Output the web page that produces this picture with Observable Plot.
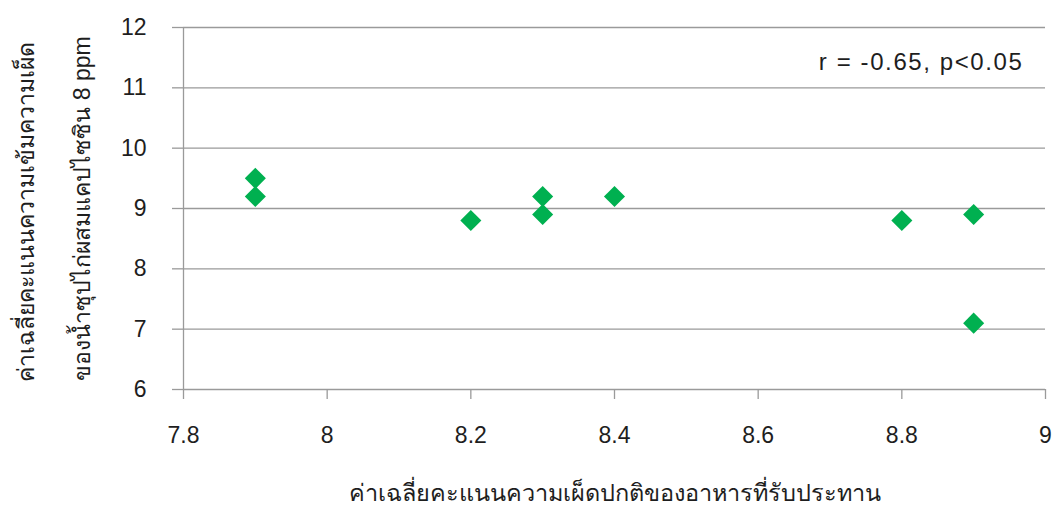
<!DOCTYPE html>
<html>
<head>
<meta charset="utf-8">
<script src="https://cdn.jsdelivr.net/npm/d3@7"></script>
<script src="https://cdn.jsdelivr.net/npm/@observablehq/plot@0.6"></script>
<style>
  html, body { margin: 0; padding: 0; background: #fff; }
  #chart svg { display: block; }
</style>
</head>
<body>
<div id="chart"></div>
<script>
// Average normal spiciness score of everyday food (x) vs. average spiciness intensity score
// of chicken soup with 8 ppm capsaicin (y)
const normalSpiceScore = [7.9, 7.9, 8.2, 8.3, 8.3, 8.4, 8.8, 8.9, 8.9];
const soupIntensityScore = [9.5, 9.2, 8.8, 9.2, 8.9, 9.2, 8.8, 8.9, 7.1];
const xTicks = [7.8, 8, 8.2, 8.4, 8.6, 8.8, 9];
const yTicks = [6, 7, 8, 9, 10, 11, 12];
const xTitle = "ค่าเฉลี่ยคะแนนความเผ็ดปกติของอาหารที่รับประทาน";
const yTitleLines = ["ค่าเฉลี่ยคะแนนความเข้มความเผ็ด", "ของน้ำซุปไก่ผสมแคปไซซิน 8 ppm"];
const statLabel = "r = -0.65, p<0.05";

const points = normalSpiceScore.map((x, i) => ({x, y: soupIntensityScore[i]}));

const font = "'Liberation Sans', Arial, sans-serif";
const gray = "#9a9a9a";
const ink = "#1e1e1e";

const chart = Plot.plot({
  width: 1052,
  height: 506,
  marginLeft: 183,
  marginRight: 7,
  marginTop: 27,
  marginBottom: 117,
  style: {fontFamily: font, fontSize: "23px", color: ink, background: "#fff"},
  x: {domain: [7.8, 9], ticks: xTicks, tickFormat: d => String(d)},
  y: {domain: [6, 12], ticks: yTicks, tickFormat: d => String(d)},
  marks: [
    Plot.gridY(yTicks, {stroke: gray, strokeOpacity: 1, strokeWidth: 1.3}),
    Plot.ruleX([7.8], {y1: 6, y2: 12, stroke: gray, strokeWidth: 1.3}),
    Plot.axisY({ticks: yTicks, tickSize: 11, tickPadding: 26, stroke: gray, strokeWidth: 1.3,
      fill: ink, fontSize: 23, label: null, tickFormat: d => String(d)}),
    Plot.axisX({ticks: xTicks, tickSize: 10, tickPadding: 27, stroke: gray, strokeWidth: 1.3,
      fill: ink, fontSize: 23, label: null, tickFormat: d => String(d)}),
    Plot.dot(points, {x: "x", y: "y", symbol: "diamond2", r: 9.5, fill: "#00B050", stroke: "none"}),
    Plot.text([statLabel], {frameAnchor: "top-right", textAnchor: "end", lineAnchor: "middle",
      dx: -22, dy: 35, fontSize: 24, fill: ink}),
    Plot.text([xTitle], {frameAnchor: "bottom", lineAnchor: "middle", dy: 104, fontSize: 23.5, fill: ink}),
    Plot.text([yTitleLines[0]], {frameAnchor: "left", rotate: -90, textAnchor: "middle", lineAnchor: "middle",
      dx: -157, dy: 3, fontSize: 23, fill: ink}),
    Plot.text([yTitleLines[1]], {frameAnchor: "left", rotate: -90, textAnchor: "middle", lineAnchor: "middle",
      dx: -101, fontSize: 23, fill: ink})
  ]
});

// widen the statistics note's spacing
d3.select(chart).selectAll("text")
  .filter(function() { return this.textContent === statLabel; })
  .style("letter-spacing", "1.6px");

document.getElementById("chart").appendChild(chart);
</script>
</body>
</html>
